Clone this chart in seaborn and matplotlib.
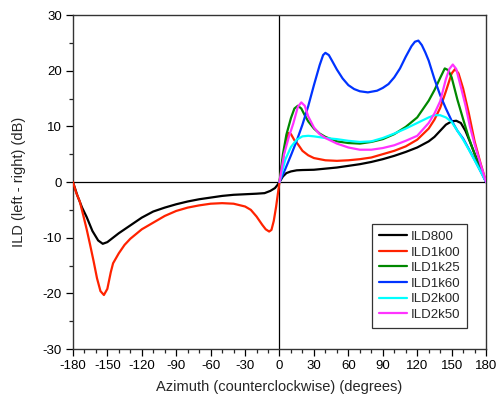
import numpy as np
import pandas as pd
import matplotlib
matplotlib.use("Agg")
import matplotlib.pyplot as plt
import seaborn as sns
from matplotlib.ticker import MultipleLocator

# ---------------- data ----------------
series_names = ["ILD800", "ILD1k00", "ILD1k25", "ILD1k60", "ILD2k00", "ILD2k50"]
series_colors = ["#000000", "#FF2200", "#008800", "#0033FF", "#00FFFF", "#FF33FF"]

az_800 = [-180, -176, -172, -168, -163, -158, -154, -150, -145, -140, -130, -120, -110, -100,
          -90, -80, -70, -60, -50, -40, -30, -20, -13, -8, -4, -2, 0,
          3, 6, 10, 15, 20, 30, 40, 50, 60, 70, 80, 90, 100, 110, 120, 130, 135, 140, 145,
          150, 154, 158, 162, 166, 170, 175, 180]
ild_800 = [0, -2.5, -4.6, -6.3, -8.8, -10.5, -11.1, -10.8, -10.0, -9.2, -7.8, -6.4, -5.3, -4.6,
           -4.0, -3.5, -3.1, -2.8, -2.5, -2.3, -2.2, -2.1, -2.0, -1.6, -1.1, -0.6, 0,
           1.0, 1.6, 1.9, 2.1, 2.15, 2.2, 2.4, 2.6, 2.9, 3.2, 3.6, 4.1, 4.7, 5.4, 6.2, 7.3, 8.1, 9.2, 10.3,
           10.9, 11.0, 10.6, 9.2, 7.2, 5.1, 2.6, 0]

az_1k00 = [-180, -177, -174, -170, -168, -165, -162, -159, -156, -153, -150, -147, -145, -140,
           -135, -130, -120, -110, -100, -90, -80, -70, -60, -50, -40, -30, -25, -20, -15, -12,
           -9, -7, -5, -3, 0,
           3, 5, 8, 10, 13, 16, 20, 25, 30, 40, 50, 60, 70, 80, 90, 100, 110, 120, 130, 135,
           140, 145, 150, 153, 156, 160, 165, 170, 175, 180]
ild_1k00 = [0, -2.0, -3.5, -6.8, -8.5, -11.3, -14.2, -17.3, -19.6, -20.3, -19.2, -16.2, -14.6, -12.8,
            -11.3, -10.2, -8.5, -7.3, -6.1, -5.2, -4.6, -4.2, -3.9, -3.8, -3.9, -4.4, -5.0, -6.2, -7.7, -8.5,
            -8.9, -8.6, -7.0, -4.5, 0,
            4.0, 6.5, 8.8, 8.6, 7.5, 6.8, 5.6, 4.8, 4.3, 3.9, 3.8, 3.9, 4.1, 4.4, 5.0, 5.6, 6.4, 7.6, 9.6, 11.2,
            13.3, 16.3, 19.5, 20.3, 19.5, 16.8, 12.3, 7.3, 3.5, 0]

az_1k25 = [0, 3, 6, 10, 13, 16, 19, 22, 25, 30, 35, 40, 50, 60, 70, 80, 90, 100, 110, 120,
           130, 135, 140, 144, 147, 150, 155, 160, 165, 170, 175, 180]
ild_1k25 = [0, 5.0, 8.5, 11.5, 13.2, 13.7, 13.2, 12.0, 10.9, 9.6, 8.7, 8.1, 7.3, 7.0, 6.9, 7.2, 7.7, 8.6, 9.9, 11.6,
            14.6, 16.5, 18.7, 20.4, 20.1, 18.8, 14.8, 11.3, 7.9, 5.0, 2.4, 0]

az_1k60 = [0, 5, 10, 15, 20, 25, 30, 35, 38, 40, 43, 46, 50, 55, 60, 65, 70, 77, 85, 90, 95,
           100, 105, 110, 115, 118, 121, 124, 127, 130, 135, 140, 145, 150, 155, 160, 165, 170, 175, 180]
ild_1k60 = [0, 2.3, 4.8, 7.4, 10.3, 13.6, 17.4, 21.0, 22.8, 23.2, 22.8, 21.7, 20.2, 18.6, 17.4, 16.7, 16.3, 16.1, 16.4, 16.9, 17.6,
            18.8, 20.4, 22.5, 24.4, 25.2, 25.4, 24.6, 23.3, 21.8, 18.5, 15.6, 13.2, 11.0, 9.2, 7.8, 5.9, 4.0, 2.0, 0]

az_2k00 = [0, 5, 10, 15, 20, 25, 30, 40, 50, 60, 70, 80, 90, 100, 110, 120, 130, 135, 140,
           145, 150, 155, 160, 165, 170, 175, 180]
ild_2k00 = [0, 4.0, 6.3, 7.6, 8.2, 8.3, 8.2, 7.9, 7.7, 7.4, 7.2, 7.3, 7.9, 8.7, 9.6, 10.6, 11.6, 12.0, 12.0,
            11.6, 10.8, 9.2, 7.6, 5.8, 3.9, 2.0, 0]

az_2k50 = [0, 4, 8, 12, 16, 19, 22, 25, 30, 35, 40, 50, 60, 70, 80, 90, 100, 110, 120, 130,
           135, 140, 145, 148, 151, 154, 158, 162, 166, 170, 175, 180]
ild_2k50 = [0, 5.0, 8.0, 10.5, 13.5, 14.3, 13.7, 11.8, 9.8, 8.6, 7.9, 6.9, 6.2, 5.8, 5.8, 6.1, 6.6, 7.4, 8.3, 10.6,
            12.3, 14.5, 18.5, 20.3, 21.1, 20.3, 17.1, 13.8, 9.9, 6.8, 3.3, 0]

x_ticks = list(range(-180, 181, 30))
y_ticks = list(range(-30, 31, 10))

# ---------------- build long table ----------------
all_az = [az_800, az_1k00, az_1k25, az_1k60, az_2k00, az_2k50]
all_ild = [ild_800, ild_1k00, ild_1k25, ild_1k60, ild_2k00, ild_2k50]
frames = []
for name, a, v in zip(series_names, all_az, all_ild):
    frames.append(pd.DataFrame({"az": a, "ild": v, "series": name}))
df = pd.concat(frames, ignore_index=True)

# ---------------- plot ----------------
sns.set_style("ticks")
plt.rcParams["font.family"] = ["Liberation Sans", "DejaVu Sans"]
plt.rcParams["axes.unicode_minus"] = False

fig = plt.figure(figsize=(4.96, 4.0), dpi=100)
ax = fig.add_axes([0.147, 0.1275, 0.833, 0.835])

ax.axhline(0, color="black", lw=0.9, zorder=1)
ax.axvline(0, color="black", lw=0.9, zorder=1)

sns.lineplot(data=df, x="az", y="ild", hue="series", hue_order=series_names,
             palette=dict(zip(series_names, series_colors)), estimator=None,
             sort=False, lw=1.6, ax=ax, zorder=3)

ax.set_xlim(-180, 180)
ax.set_ylim(-30, 30)
ax.set_xticks(x_ticks)
ax.set_yticks(y_ticks)
ax.xaxis.set_minor_locator(MultipleLocator(10))
ax.yaxis.set_minor_locator(MultipleLocator(5))
ax.tick_params(axis="both", which="major", direction="out", length=5, width=0.9,
               labelsize=9.5, colors="black", top=False, right=False, pad=3)
ax.tick_params(axis="both", which="minor", direction="out", length=3, width=0.9,
               top=False, right=False)
for s in ax.spines.values():
    s.set_visible(True)
    s.set_color("#333333")
    s.set_linewidth(1.0)

ax.set_xlabel("Azimuth (counterclockwise) (degrees)", fontsize=10.5, labelpad=6)
ax.set_ylabel("ILD (left - right) (dB)", fontsize=10.5, labelpad=12)

handles, labels = ax.get_legend_handles_labels()
leg = ax.legend(handles, labels, loc="lower right", bbox_to_anchor=(0.955, 0.063),
                borderaxespad=0, fontsize=9.5, frameon=True, fancybox=False,
                handlelength=2.1, handletextpad=0.3, labelspacing=0.25,
                borderpad=0.55)
leg.get_frame().set_edgecolor("#333333")
leg.get_frame().set_linewidth(0.9)
leg.get_frame().set_alpha(1)
for line in leg.get_lines():
    line.set_linewidth(1.6)

fig.savefig("out.png", dpi=100)
